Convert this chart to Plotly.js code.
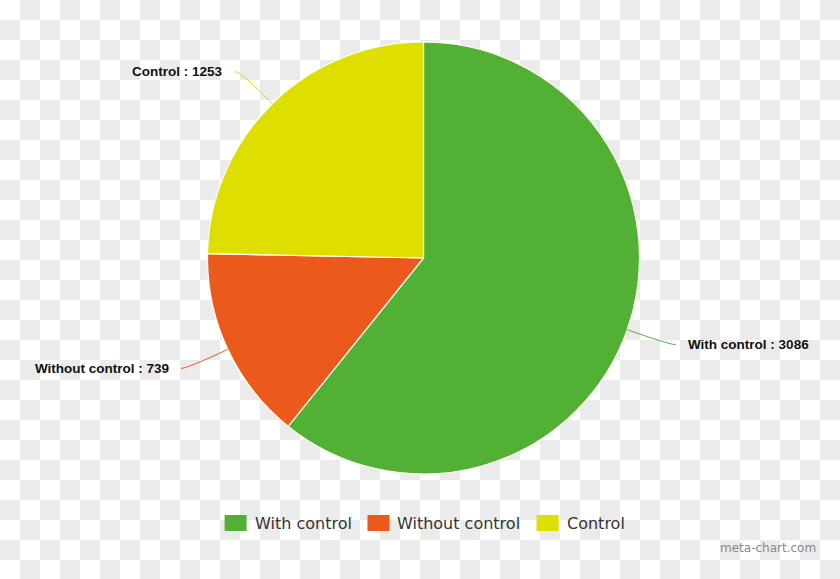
<!DOCTYPE html>
<html>
<head>
<meta charset="utf-8">
<script src="https://cdn.plot.ly/plotly-3.0.1.min.js"></script>
<style>
  html, body { margin:0; padding:0; background:#ffffff; }
  body { width:840px; height:579px; overflow:hidden; }
  #chart { width:840px; height:579px; }
</style>
</head>
<body>
<div id="chart"></div>
<script>
// ---- data ----
const labels = ['With control', 'Without control', 'Control'];
const values = [3086, 739, 1253];
const colors = ['#52b135', '#eb5a1c', '#dede00'];
const watermark = 'meta-chart.com';

// ---- layout geometry ----
const W = 840, H = 579;
const cx = 423.5, cy = 258, R = 216;
const X = p => p / W, Y = p => 1 - p / H;

// checkerboard backdrop (transparency grid of the reference image)
const bgSvg = `<svg xmlns='http://www.w3.org/2000/svg' width='${W}' height='${H}'>` +
  `<defs><pattern id='p' width='40' height='40' patternUnits='userSpaceOnUse'>` +
  `<rect width='40' height='40' fill='#ffffff'/>` +
  `<rect x='20' y='0' width='20' height='20' fill='#ebebeb'/>` +
  `<rect x='0' y='20' width='20' height='20' fill='#ebebeb'/></pattern></defs>` +
  `<rect width='${W}' height='${H}' fill='url(#p)'/></svg>`;
const bgUri = 'data:image/svg+xml;base64,' + btoa(bgSvg);

const total = values.reduce((a, b) => a + b, 0);
const shapes = [], annotations = [];

// leader lines + outside labels computed from slice angles
let cum = 0;
values.forEach((v, i) => {
  const mid = (cum + v / 2) / total * 2 * Math.PI; // clockwise from 12 o'clock
  cum += v;
  const dx = Math.sin(mid), dy = -Math.cos(mid);
  const A = [cx + dx * R, cy + dy * R];
  const B = [cx + dx * (R + 45), cy + dy * (R + 45)];
  const side = dx >= 0 ? 1 : -1;
  const C = [B[0] + side * 6, B[1]];
  shapes.push({
    type: 'path', xref: 'paper', yref: 'paper',
    path: `M${X(A[0])},${Y(A[1])} Q${X(B[0])},${Y(B[1])} ${X(C[0])},${Y(C[1])}`,
    line: { color: colors[i], width: 1 }
  });
  annotations.push({
    xref: 'paper', yref: 'paper',
    x: X(C[0] + side * 10), y: Y(C[1]),
    xanchor: side > 0 ? 'left' : 'right', yanchor: 'middle',
    text: `${labels[i]} : ${values[i]}`, showarrow: false,
    font: { family: 'Liberation Sans, Arial, sans-serif', size: 13.5, color: '#111', weight: 'bold' }
  });
});

// custom legend, centered
const legFont = '16px "DejaVu Sans"';
const ctx = document.createElement('canvas').getContext('2d');
ctx.font = legFont;
const symW = 22, symH = 16, symGap = 6, itemGap = 18, legY = 523;
const widths = labels.map(l => ctx.measureText(l).width);
const totalW = widths.reduce((s, w) => s + symW + symGap + w, 0) + itemGap * (labels.length - 1);
let lx = cx - totalW / 2;
labels.forEach((l, i) => {
  shapes.push({
    type: 'rect', xref: 'paper', yref: 'paper',
    x0: X(lx), x1: X(lx + symW), y0: Y(legY - symH / 2), y1: Y(legY + symH / 2),
    fillcolor: colors[i], line: { width: 0 }
  });
  annotations.push({
    xref: 'paper', yref: 'paper', x: X(lx + symW + symGap), y: Y(legY),
    xanchor: 'left', yanchor: 'middle', showarrow: false, text: l,
    font: { family: 'DejaVu Sans, sans-serif', size: 16, color: '#333' }
  });
  lx += symW + symGap + widths[i] + itemGap;
});

annotations.push({
  xref: 'paper', yref: 'paper', x: X(818), y: Y(548),
  xanchor: 'right', yanchor: 'middle', showarrow: false, text: watermark,
  font: { family: 'DejaVu Sans, sans-serif', size: 12, color: '#888' }
});

const trace = {
  type: 'pie',
  labels: labels,
  values: values,
  sort: false,
  direction: 'clockwise',
  rotation: 0,
  textinfo: 'none',
  hoverinfo: 'none',
  marker: { colors: colors, line: { color: '#fffff0', width: 1.2 } },
  domain: { x: [X(cx - R), X(cx + R)], y: [Y(cy + R), Y(cy - R)] }
};

Plotly.newPlot('chart', [trace], {
  width: W, height: H,
  margin: { l: 0, r: 0, t: 0, b: 0 },
  paper_bgcolor: '#ffffff',
  plot_bgcolor: 'rgba(0,0,0,0)',
  showlegend: false,
  images: [{
    source: bgUri, xref: 'paper', yref: 'paper',
    x: 0, y: 1, sizex: 1, sizey: 1, xanchor: 'left', yanchor: 'top',
    sizing: 'stretch', layer: 'below'
  }],
  shapes: shapes,
  annotations: annotations
}, { staticPlot: true, displayModeBar: false });
</script>
</body>
</html>
